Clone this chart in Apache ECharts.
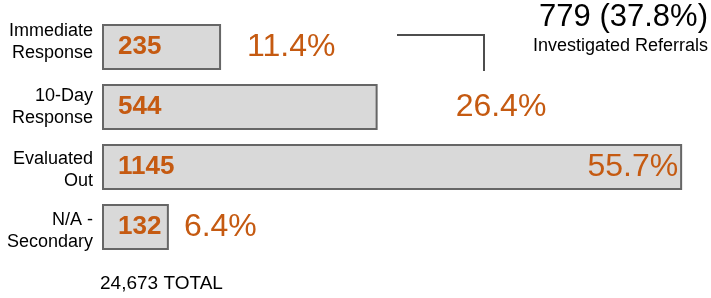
<!DOCTYPE html>
<html>
<head>
<meta charset="utf-8">
<script src="https://cdn.jsdelivr.net/npm/echarts@6/dist/echarts.min.js"></script>
<style>
  html, body { margin: 0; padding: 0; background: #fff; }
  #chart { width: 711px; height: 298px; }
</style>
</head>
<body>
<div id="chart"></div>
<script>
const categories = ['Immediate\nResponse', '10-Day\nResponse', 'Evaluated\nOut', 'N/A -\nSecondary']
const counts = [235, 544, 1145, 132]
const percents = ['11.4%', '26.4%', '55.7%', '6.4%']
// where each percent label sits relative to its bar
const pctPlace = [
  { position: 'right', distance: 26 },
  { position: 'right', distance: 78 },
  { position: 'insideRight', distance: 4 },
  { position: 'right', distance: 15 }
]
// vertical nudge of each category label (negative = up)
const labelShift = [-10, 0, 7, 9]
const investigated = '779'
const investigatedPct = '(37.8%)'
const totalText = '24,673 TOTAL'

const orange = '#C55A11'
const font = '"Liberation Sans", Arial, sans-serif'

const chart = echarts.init(document.getElementById('chart'))

const catLabel = (value, index) => {
  const lines = value.split('\n').map(l => '{t|' + l + '}')
  const s = labelShift[index]
  if (s < 0) lines.push('{g' + (-s) + '|}')
  if (s > 0) lines.unshift('{g' + s + '|}')
  return lines.join('\n')
}

const rich = { t: { fontSize: 18, lineHeight: 22, color: '#000', fontFamily: font } }
labelShift.forEach(s => {
  if (s) rich['g' + Math.abs(s)] = { lineHeight: Math.abs(s), fontSize: 1 }
})

const option = {
  animation: false,
  textStyle: { fontFamily: font },
  grid: { left: 102, right: 1, top: 17, bottom: 41 },
  xAxis: {
    type: 'value',
    min: 0,
    max: 1200,
    show: false
  },
  yAxis: {
    type: 'category',
    inverse: true,
    data: categories,
    axisLine: { show: false },
    axisTick: { show: false },
    axisLabel: {
      margin: 9,
      align: 'right',
      formatter: catLabel,
      rich: rich
    }
  },
  series: [
    {
      type: 'bar',
      data: counts,
      barWidth: 46,
      itemStyle: {
        color: '#D9D9D9',
        borderColor: '#666666',
        borderWidth: 2
      },
      label: {
        show: true,
        position: 'insideLeft',
        distance: 16,
        color: orange,
        fontSize: 26,
        fontWeight: 'bold',
        fontFamily: font
      }
    },
    {
      type: 'bar',
      barGap: '-100%',
      barWidth: 46,
      silent: true,
      itemStyle: { color: 'transparent' },
      data: counts.map((v, i) => ({
        value: v,
        label: {
          show: true,
          position: pctPlace[i].position,
          distance: pctPlace[i].distance,
          formatter: percents[i]
        }
      })),
      label: {
        color: orange,
        fontSize: 32,
        fontFamily: font
      }
    }
  ],
  graphic: [
    {
      type: 'polyline',
      shape: { points: [[397, 35], [484, 35], [484, 71]] },
      style: { stroke: '#4D4D4D', lineWidth: 2, fill: null }
    },
    {
      type: 'text',
      right: 3,
      top: 2,
      style: {
        text: '{a|' + investigated + ' }{b|' + investigatedPct + '}',
        rich: {
          a: { fontSize: 31, color: '#000', fontFamily: font },
          b: { fontSize: 31, color: orange, fontFamily: font }
        }
      }
    },
    {
      type: 'text',
      right: 3,
      top: 37,
      style: {
        text: 'Investigated Referrals',
        fontSize: 18,
        fill: '#000',
        fontFamily: font
      }
    },
    {
      type: 'text',
      left: 100,
      top: 274,
      style: {
        text: totalText,
        fontSize: 19,
        fill: '#000',
        fontFamily: font
      }
    }
  ]
}

chart.setOption(option)
</script>
</body>
</html>
